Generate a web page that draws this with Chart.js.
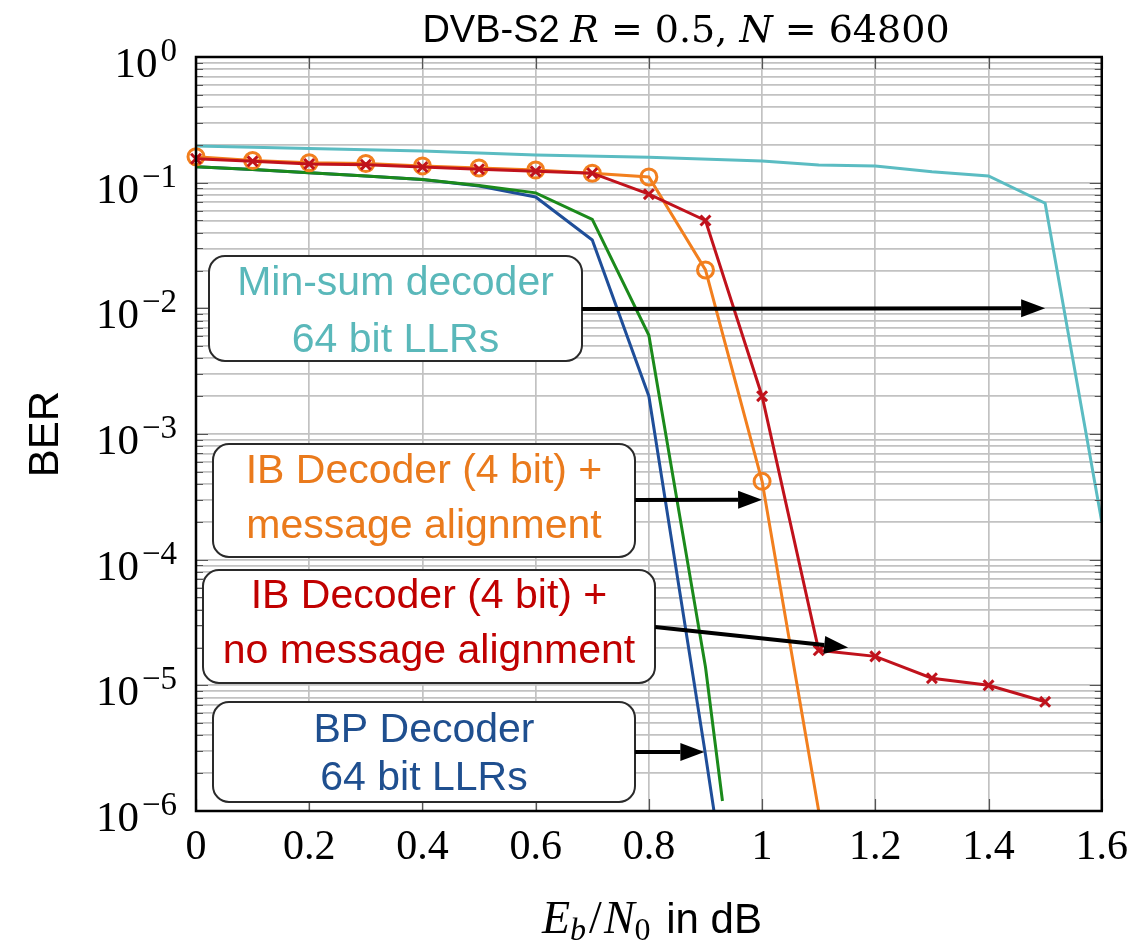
<!DOCTYPE html>
<html>
<head>
<meta charset="utf-8">
<script src="https://cdn.jsdelivr.net/npm/chart.js@4.4.1/dist/chart.umd.min.js"></script>
<style>
  html, body { margin: 0; padding: 0; background: #fff; }
  canvas { display: block; }
</style>
</head>
<body>
<canvas id="ber" width="1140" height="945"></canvas>
<script>
// Eb/N0 grids (dB) and bit error rates for each decoder
const ebn0MinSum   = [0, 0.2, 0.4, 0.6, 0.8, 1.0, 1.1, 1.2, 1.3, 1.4, 1.5, 1.6];
const berMinSum    = [0.196, 0.187, 0.179, 0.166, 0.159, 0.149, 0.138, 0.136, 0.122, 0.113, 0.0686, 2.0e-4];

const ebn0IbAlign  = [0, 0.1, 0.2, 0.3, 0.4, 0.5, 0.6, 0.7, 0.8, 0.9, 1.0, 1.1];
const berIbAlign   = [0.161, 0.150, 0.144, 0.142, 0.136, 0.131, 0.126, 0.119, 0.111, 0.0202, 4.2e-4, 1e-6];

const ebn0IbNoAlign = [0, 0.1, 0.2, 0.3, 0.4, 0.5, 0.6, 0.7, 0.8, 0.9, 1.0, 1.1, 1.2, 1.3, 1.4, 1.5];
const berIbNoAlign  = [0.155, 0.148, 0.141, 0.139, 0.133, 0.128, 0.123, 0.119, 0.081, 0.050, 2.0e-3, 1.9e-5, 1.7e-5, 1.14e-5, 1.0e-5, 7.4e-6];

const ebn0Green    = [0, 0.1, 0.2, 0.3, 0.4, 0.5, 0.6, 0.7, 0.8, 0.9, 0.93];
const berGreen     = [0.134, 0.127, 0.120, 0.113, 0.106, 0.095, 0.083, 0.051, 6.1e-3, 1.4e-5, 1.2e-6];

const ebn0Bp       = [0, 0.1, 0.2, 0.3, 0.4, 0.5, 0.6, 0.7, 0.8, 0.9, 0.915];
const berBp        = [0.134, 0.127, 0.120, 0.113, 0.106, 0.094, 0.077, 0.035, 2.0e-3, 2.8e-6, 1e-6];

// axis ticks
const xTickValues = [0, 0.2, 0.4, 0.6, 0.8, 1.0, 1.2, 1.4, 1.6];
const yDecades    = [0, -1, -2, -3, -4, -5, -6];

const COL = {
  cyan: '#5bbcc2', cyanText: '#5ab8ba',
  orange: '#f27f1e', orangeText: '#ea7a1c',
  red: '#c0121c', redText: '#c00000',
  green: '#1b8a1b',
  blue: '#1f4e99', blueText: '#1f4f8f'
};

const pts = (xs, ys) => xs.map((x, i) => ({ x: x, y: ys[i] }));

// text boxes with arrows pointing at the curves (arrow tip in data units)
const notes = [
  { lines: ['Min-sum decoder', '64 bit LLRs'], color: COL.cyanText,
    box: [209, 256, 582, 361], base: [295, 352], from: [582, 309], tip: [1.5, 1e-2] },
  { lines: ['IB Decoder (4 bit) +', 'message alignment'], color: COL.orangeText,
    box: [213, 444, 635, 557], base: [483, 538], from: [635, 500], tip: [1.0, 3.0e-4] },
  { lines: ['IB Decoder (4 bit) +', 'no message alignment'], color: COL.redText,
    box: [203, 570, 655, 683], base: [608, 663], from: [655, 627], tip: [1.152, 2.0e-5] },
  { lines: ['BP Decoder', '64 bit LLRs'], color: COL.blueText,
    box: [213, 702, 635, 802], base: [742, 790], from: [635, 752], tip: [0.898, 2.95e-6] }
];

function roundRect(ctx, x0, y0, x1, y1, r) {
  ctx.beginPath();
  ctx.moveTo(x0 + r, y0);
  ctx.lineTo(x1 - r, y0);
  ctx.arcTo(x1, y0, x1, y0 + r, r);
  ctx.lineTo(x1, y1 - r);
  ctx.arcTo(x1, y1, x1 - r, y1, r);
  ctx.lineTo(x0 + r, y1);
  ctx.arcTo(x0, y1, x0, y1 - r, r);
  ctx.lineTo(x0, y0 + r);
  ctx.arcTo(x0, y0, x0 + r, y0, r);
  ctx.closePath();
}

function arrow(ctx, x0, y0, x1, y1) {
  const ang = Math.atan2(y1 - y0, x1 - x0);
  const hl = 24, hw = 9;
  const bx = x1 - hl * Math.cos(ang), by = y1 - hl * Math.sin(ang);
  ctx.strokeStyle = '#000';
  ctx.fillStyle = '#000';
  ctx.lineWidth = 4;
  ctx.beginPath();
  ctx.moveTo(x0, y0);
  ctx.lineTo(bx, by);
  ctx.stroke();
  ctx.beginPath();
  ctx.moveTo(x1, y1);
  ctx.lineTo(bx - hw * Math.sin(ang), by + hw * Math.cos(ang));
  ctx.lineTo(bx + hw * Math.sin(ang), by - hw * Math.cos(ang));
  ctx.closePath();
  ctx.fill();
}

function drawRuns(ctx, runs, cx, baseline) {
  let total = 0;
  runs.forEach(r => { ctx.font = r.font; r.w = ctx.measureText(r.text).width + (r.gap || 0); total += r.w; });
  let x = cx - total / 2;
  ctx.textAlign = 'left';
  ctx.textBaseline = 'alphabetic';
  runs.forEach(r => { ctx.font = r.font; ctx.fillText(r.text, x, baseline + (r.dy || 0)); x += r.w; });
}

const decorations = {
  id: 'decorations',
  afterDatasetsDraw(chart) {
    const ctx = chart.ctx;
    const { left, right, top, bottom } = chart.chartArea;
    const xs = chart.scales.x, ys = chart.scales.y;
    ctx.save();

    // inner tick marks along the frame
    ctx.strokeStyle = '#555';
    ctx.lineWidth = 1.2;
    ys.ticks.forEach(t => {
      const py = Math.round(ys.getPixelForValue(t.value)) + 0.5;
      const len = t.major ? 12 : 7;
      ctx.beginPath();
      ctx.moveTo(left, py); ctx.lineTo(left + len, py);
      ctx.moveTo(right - len, py); ctx.lineTo(right, py);
      ctx.stroke();
    });
    xs.ticks.forEach(t => {
      const px = Math.round(xs.getPixelForValue(t.value)) + 0.5;
      ctx.beginPath();
      ctx.moveTo(px, bottom); ctx.lineTo(px, bottom - 12);
      ctx.moveTo(px, top); ctx.lineTo(px, top + 12);
      ctx.stroke();
    });

    // annotation boxes and arrows
    notes.forEach(n => {
      const [x0, y0, x1, y1] = n.box;
      roundRect(ctx, x0, y0, x1, y1, 16);
      ctx.fillStyle = '#fff';
      ctx.fill();
      ctx.strokeStyle = '#2a2a2a';
      ctx.lineWidth = 2;
      ctx.stroke();
      ctx.fillStyle = n.color;
      ctx.font = '41px "Liberation Sans", Arial, sans-serif';
      ctx.textAlign = 'center';
      ctx.textBaseline = 'alphabetic';
      const cx = (x0 + x1) / 2;
      n.lines.forEach((s, i) => ctx.fillText(s, cx, n.base[i]));
      arrow(ctx, n.from[0], n.from[1], xs.getPixelForValue(n.tip[0]), ys.getPixelForValue(n.tip[1]));
    });

    // frame
    ctx.strokeStyle = '#000';
    ctx.lineWidth = 2.5;
    ctx.strokeRect(left, top, right - left, bottom - top);
    ctx.restore();
  },
  afterDraw(chart) {
    const ctx = chart.ctx;
    const ys = chart.scales.y;
    ctx.save();
    ctx.fillStyle = '#000';

    // y tick labels 10^k
    ctx.textBaseline = 'alphabetic';
    ctx.textAlign = 'right';
    const labelRight = 177;
    yDecades.forEach(e => {
      const py = ys.getPixelForValue(Math.pow(10, e));
      const expText = e === 0 ? '0' : '\u2212' + (-e);
      ctx.font = '33px "Liberation Serif", "Times New Roman", serif';
      const ew = ctx.measureText(expText).width;
      ctx.fillText(expText, labelRight, py + 4);
      ctx.font = '43px "Liberation Serif", "Times New Roman", serif';
      ctx.fillText('10', labelRight - ew - 3, py + 20);
    });

    // title
    const serif = '"DejaVu Serif", serif';
    drawRuns(ctx, [
      { text: 'DVB-S2 ', font: '38px "Liberation Sans", Arial, sans-serif' },
      { text: 'R', font: 'italic 38px ' + serif },
      { text: ' = 0.5, ', font: '38px ' + serif },
      { text: 'N', font: 'italic 38px ' + serif },
      { text: ' = 64800', font: '38px ' + serif }
    ], 686, 42);

    // x axis title
    const lser = '"Liberation Serif", "Times New Roman", serif';
    drawRuns(ctx, [
      { text: 'E', font: 'italic 46px ' + lser },
      { text: 'b', font: 'italic 32px ' + lser, dy: 7, gap: 3 },
      { text: '/', font: '46px ' + lser, gap: 2 },
      { text: 'N', font: 'italic 46px ' + lser },
      { text: '0', font: '32px ' + lser, dy: 7, gap: 4 },
      { text: ' in dB', font: '42px "Liberation Sans", Arial, sans-serif' }
    ], 652, 933);
    ctx.restore();
  }
};

const line = (label, xs, ys, color, extra) => Object.assign({
  label: label,
  data: pts(xs, ys),
  borderColor: color,
  backgroundColor: color,
  borderWidth: 3,
  pointRadius: 0,
  tension: 0,
  clip: false
}, extra || {});

new Chart(document.getElementById('ber'), {
  type: 'line',
  data: {
    datasets: [
      line('IB Decoder (4 bit) + no message alignment', ebn0IbNoAlign, berIbNoAlign, COL.red, {
        pointStyle: 'crossRot', pointRadius: 7, pointBorderWidth: 3, pointBorderColor: COL.red
      }),
      line('IB Decoder (4 bit) + message alignment', ebn0IbAlign, berIbAlign, COL.orange, {
        pointStyle: 'circle',
        pointRadius: ebn0IbAlign.map((_, i) => i === ebn0IbAlign.length - 1 ? 0 : 8),
        pointBorderWidth: 3, pointBorderColor: COL.orange, pointBackgroundColor: 'rgba(0,0,0,0)'
      }),
      line('Decoder (green)', ebn0Green, berGreen, COL.green),
      line('BP Decoder 64 bit LLRs', ebn0Bp, berBp, COL.blue),
      line('Min-sum decoder 64 bit LLRs', ebn0MinSum, berMinSum, COL.cyan)
    ]
  },
  options: {
    responsive: false,
    animation: false,
    devicePixelRatio: 1,
    layout: { padding: { top: 57, right: 35, left: 0, bottom: 0 } },
    plugins: { legend: { display: false }, tooltip: { enabled: false }, title: { display: false } },
    scales: {
      x: {
        type: 'linear', min: 0, max: 1.6,
        afterBuildTicks(scale) { scale.ticks = xTickValues.map(v => ({ value: v })); },
        afterFit(scale) { scale.height = 134; },
        ticks: {
          font: { family: '"Liberation Serif", "Times New Roman", serif', size: 42 },
          color: '#000', padding: 12, maxRotation: 0, autoSkip: false,
          callback: v => String(Math.round(v * 10) / 10)
        },
        grid: { color: '#c2c2c2', lineWidth: 1.7, drawTicks: false },
        border: { display: false }
      },
      y: {
        type: 'logarithmic', min: 1e-6, max: 1,
        afterBuildTicks(scale) {
          const t = [];
          for (let e = -6; e <= 0; e++) {
            for (let m = 1; m <= 9; m++) {
              if (e === 0 && m > 1) break;
              t.push({ value: m * Math.pow(10, e), major: m === 1 });
            }
          }
          scale.ticks = t;
        },
        afterFit(scale) { scale.width = 196; },
        ticks: { display: false },
        grid: { color: '#c2c2c2', lineWidth: 1.7, drawTicks: false },
        border: { display: false },
        title: {
          display: true, text: 'BER', color: '#000',
          font: { family: '"Liberation Sans", Arial, sans-serif', size: 42 },
          padding: { top: 21, bottom: 0 }
        }
      }
    }
  },
  plugins: [decorations]
});
</script>
</body>
</html>
